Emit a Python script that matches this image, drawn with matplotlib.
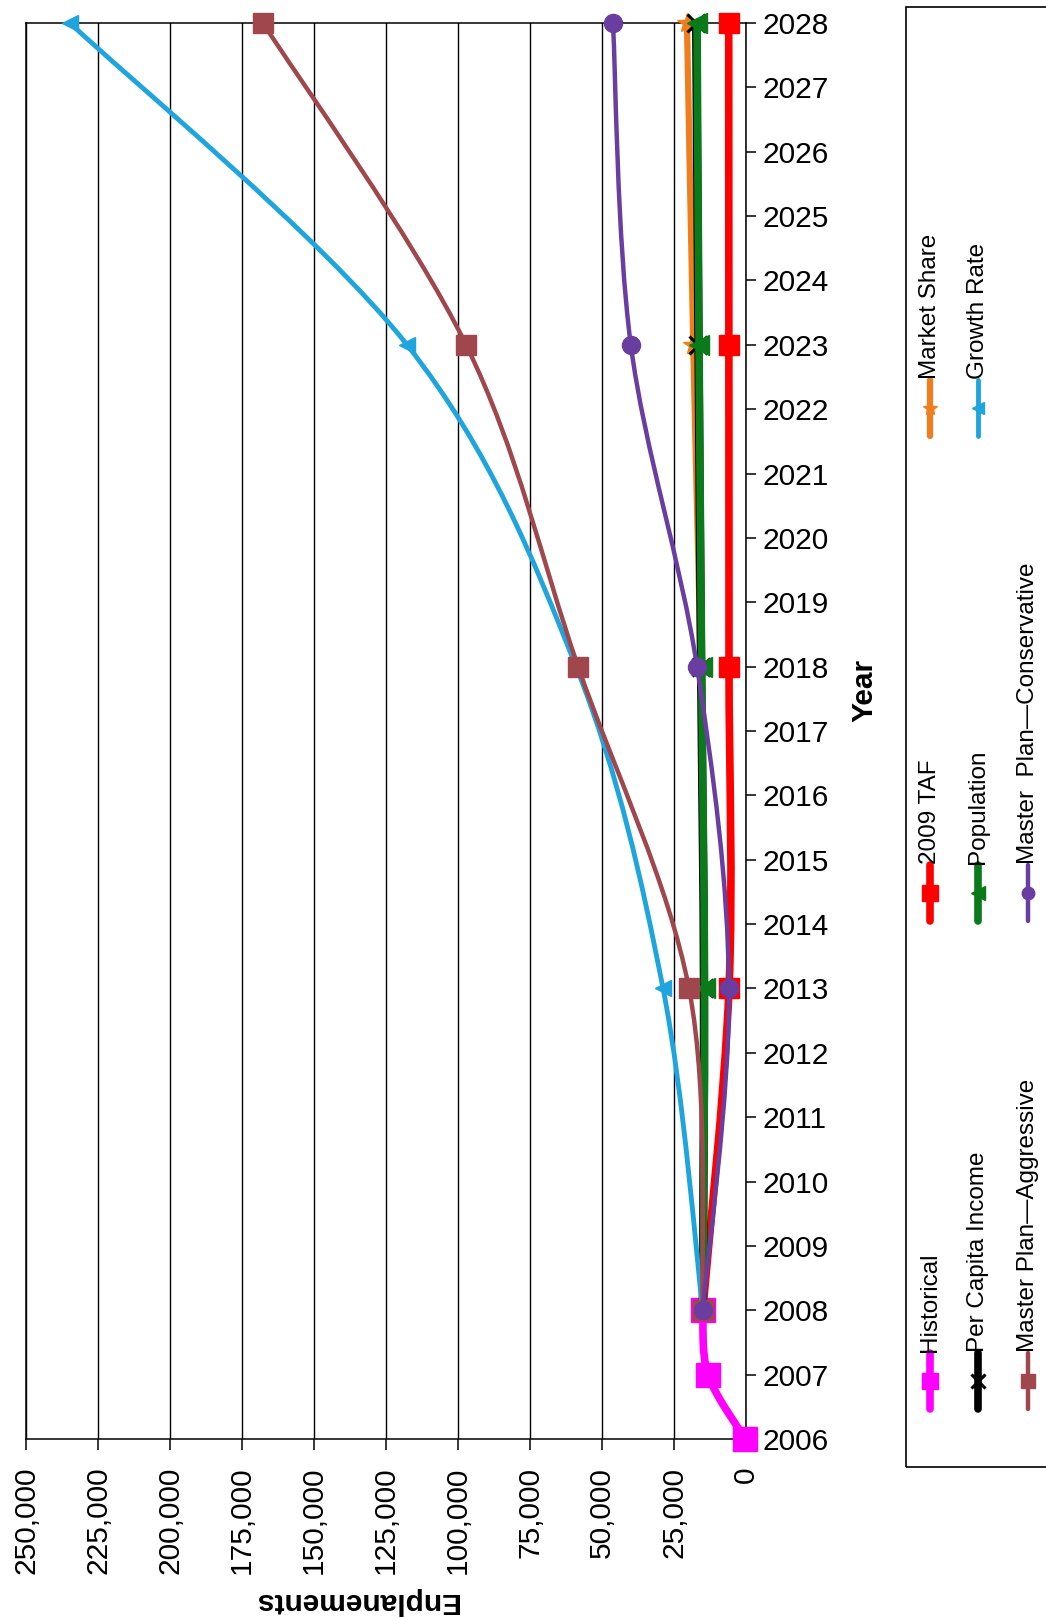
import matplotlib
matplotlib.use('Agg')
import matplotlib.pyplot as plt
from matplotlib.path import Path
from matplotlib.patches import PathPatch, Rectangle
from matplotlib.lines import Line2D
from matplotlib.ticker import FuncFormatter
from matplotlib import font_manager
import numpy as np

plt.rcParams['font.family'] = ['Liberation Sans', 'DejaVu Sans']

# ---------------- data ----------------
hist_years = [2006, 2007, 2008]
historical = [300, 13200, 15000]

fc_years = [2008, 2013, 2018, 2023, 2028]
taf_2009 = [15000, 5900, 5900, 5950, 6000]
market_share = [15000, 14300, 15800, 18300, 20500]
per_capita_income = [15000, 14600, 15600, 16500, 17300]
population = [15000, 14400, 15400, 16300, 17000]
growth_rate = [15000, 28800, 59000, 117700, 234700]
mp_aggressive = [15000, 19800, 58300, 97200, 167700]
mp_conservative = [15000, 5900, 17000, 40000, 46200]

series_names = ["Historical", "2009 TAF", "Market Share", "Per Capita Income",
                "Population", "Growth Rate", "Master Plan\u2014Aggressive",
                "Master  Plan\u2014Conservative"]
enplanement_ticks = list(range(0, 250001, 25000))
year_ticks = list(range(2006, 2029))

# ---------------- styles ----------------
W, H, DPI = 1046, 1617, 100
styles = [
    # color, lw, marker, ms, mew, legend ms
    ('#FF00FF', 5.5, 's', 17, 1, 12),
    ('#FF0000', 5.5, 's', 14.5, 1, 11),
    ('#F07D1E', 4.5, '*', 15, 1, 10),
    ('#000000', 6.0, 'x', 13, 2.2, 10),
    ('#0A7A1A', 5.5, '<', 14, 1, 10),
    ('#1FA5DE', 3.5, '<', 12, 1, 9),
    ('#A0474E', 3.2, 's', 14, 1, 10),
    ('#6A3DA0', 3.2, 'o', 13, 1, 9),
]
data = [(hist_years, historical), (fc_years, taf_2009), (fc_years, market_share),
        (fc_years, per_capita_income), (fc_years, population), (fc_years, growth_rate),
        (fc_years, mp_aggressive), (fc_years, mp_conservative)]

installed = {f.name for f in font_manager.fontManager.ttflist}
if 'Liberation Sans Narrow' in installed:
    legend_family = ['Liberation Sans Narrow', 'DejaVu Sans']
    legend_size = 20.5
else:
    legend_family = ['Liberation Sans', 'DejaVu Sans']
    legend_size = 17.5


def smooth_path(xs, ys):
    pts = np.column_stack([xs, ys]).astype(float)
    n = len(pts)
    verts = [pts[0]]
    codes = [Path.MOVETO]
    for i in range(n - 1):
        p0 = pts[i - 1] if i > 0 else pts[i]
        p1 = pts[i]
        p2 = pts[i + 1]
        p3 = pts[i + 2] if i + 2 < n else pts[i + 1]
        c1 = p1 + (p2 - p0) / 6.0
        c2 = p2 - (p3 - p1) / 6.0
        verts += [c1, c2, p2]
        codes += [Path.CURVE4] * 3
    return Path(verts, codes)


fig = plt.figure(figsize=(W / DPI, H / DPI), dpi=DPI)
fig.patch.set_facecolor('white')

ax_l, ax_r, ax_t, ax_b = 26, 746, 23, 1439
ax = fig.add_axes([ax_l / W, 1 - ax_b / H, (ax_r - ax_l) / W, (ax_b - ax_t) / H])

for z, ((yrs, vals), (c, lw, mk, ms, mew, lms)) in enumerate(zip(data, styles)):
    path = smooth_path(vals, yrs)
    ax.add_patch(PathPatch(path, fill=False, edgecolor=c, lw=lw, capstyle='round',
                           joinstyle='round', zorder=3 + 2 * z, clip_on=False))
    ax.plot(vals, yrs, ls='none', marker=mk, ms=ms, color=c, mec=c, mfc=c, mew=mew,
            zorder=4 + 2 * z, clip_on=False)

ax.set_xlim(250000, 0)
ax.set_ylim(2006, 2028)
ax.yaxis.tick_right()
ax.set_yticks(year_ticks)
ax.set_xticks(enplanement_ticks)
ax.xaxis.set_major_formatter(FuncFormatter(lambda v, p: f'{int(v):,}'))
ax.tick_params(axis='y', direction='out', length=7, width=1.1, pad=5, labelsize=21.5,
               right=True, left=False, colors='black')
ax.tick_params(axis='x', direction='out', length=8, width=1.1, pad=12, labelsize=21.5,
               labelrotation=90, colors='black')
ax.grid(axis='x', color='black', lw=1.0, zorder=1)
ax.set_axisbelow(True)
for s in ax.spines.values():
    s.set_color('black')
    s.set_linewidth(1.1)

# axis titles
fig.text(864 / W, 1 - 690 / H, 'Year', rotation=90, fontsize=21.5, fontweight='bold',
         ha='center', va='center')
fig.text(356 / W, 1 - 1601 / H, 'Enplanements', rotation=180, fontsize=21.5,
         fontweight='bold', ha='center', va='center')

# legend box
fig.add_artist(Rectangle((906 / W, 1 - 1467 / H), 200 / W, (1467 - 7) / H,
                         transform=fig.transFigure, fill=False, edgecolor='black',
                         lw=1.2, clip_on=False))

col_x = [930, 978, 1028]
row_marker_y = [1381, 893, 408]
half = 28
for i, (name, (c, lw, mk, ms, mew, lms)) in enumerate(zip(series_names, styles)):
    row = i % 3
    col = i // 3
    x = col_x[col]
    ym = row_marker_y[row]
    fig.add_artist(Line2D([x / W, x / W], [1 - (ym + half) / H, 1 - (ym - half) / H],
                          transform=fig.transFigure, color=c, lw=min(lw, 5.5),
                          marker='none', solid_capstyle='round'))
    fig.add_artist(Line2D([x / W], [1 - ym / H], transform=fig.transFigure, ls='none',
                          marker=mk, ms=lms, color=c, mfc=c, mec=c, mew=mew))
    fig.text(x / W, 1 - (ym - half - 1) / H, name, rotation=90, rotation_mode='anchor',
             ha='left', va='center', fontsize=legend_size, family=legend_family)

fig.savefig('out.png', dpi=DPI)
